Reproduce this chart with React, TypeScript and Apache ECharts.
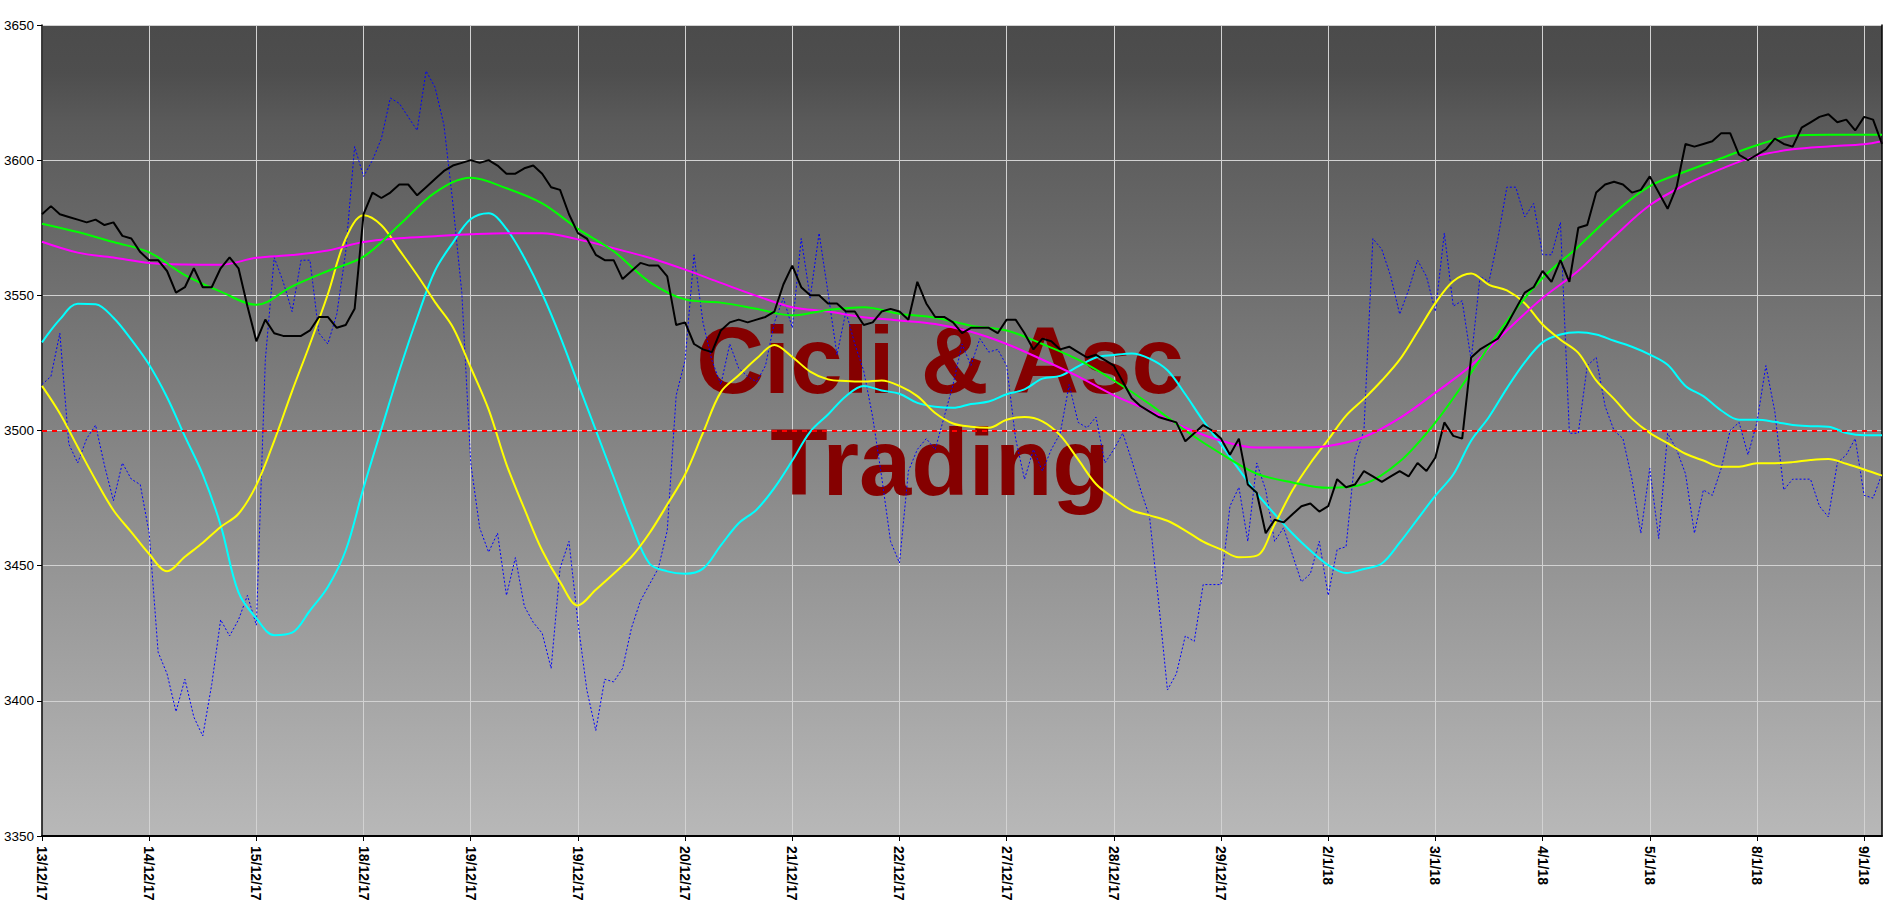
import React, { useEffect, useRef } from "react";
import * as echarts from "echarts";

// ---- tick labels (one every 12 bars) ----
const tickLabels = [
  "13/12/17", "14/12/17", "15/12/17", "18/12/17", "19/12/17", "19/12/17",
  "20/12/17", "21/12/17", "22/12/17", "27/12/17", "28/12/17", "29/12/17",
  "2/1/18", "3/1/18", "4/1/18", "5/1/18", "8/1/18", "9/1/18",
];
const BARS_PER_TICK = 12;
const N = 207;

// ---- price (black) ----
const price = [
  3580, 3583, 3580, 3579, 3578, 3577, 3578, 3576, 3577, 3572, 3571, 3566,
  3563, 3563, 3559, 3551, 3553, 3560, 3553, 3553, 3560, 3564, 3560, 3546,
  3533, 3541, 3536, 3535, 3535, 3535, 3537, 3542, 3542, 3538, 3539, 3545,
  3580, 3588, 3586, 3588, 3591, 3591, 3587, 3590, 3593, 3596, 3598, 3599,
  3600, 3599, 3600, 3598, 3595, 3595, 3597, 3598, 3595, 3590, 3589, 3580,
  3573, 3571, 3565, 3563, 3563, 3556, 3559, 3562, 3561, 3561, 3557, 3539,
  3540, 3532, 3530, 3529, 3537, 3540, 3541, 3540, 3541, 3542, 3544, 3554,
  3561, 3553, 3550, 3550, 3547, 3547, 3544, 3544, 3539, 3540, 3544, 3545,
  3544, 3541, 3555, 3547, 3542, 3542, 3540, 3536, 3538, 3538, 3538, 3536,
  3541, 3541, 3536, 3530, 3534, 3533, 3530, 3531, 3529, 3527, 3528, 3526,
  3524, 3518, 3512, 3509, 3507, 3505, 3504, 3503, 3496, 3499, 3502, 3500,
  3497, 3491, 3497, 3480, 3477, 3462, 3467, 3466, 3469, 3472, 3473, 3470,
  3472, 3482, 3479, 3480, 3485, 3483, 3481, 3483, 3485, 3483, 3488, 3485,
  3490, 3503, 3498, 3497, 3527, 3530, 3532, 3534, 3539, 3545, 3551, 3553,
  3559, 3555, 3563, 3555, 3575, 3576, 3588, 3591, 3592, 3591, 3588, 3589,
  3594, 3588, 3582, 3590, 3606, 3605, 3606, 3607, 3610, 3610, 3602, 3600,
  3602, 3604, 3608, 3606, 3605, 3612, 3614, 3616, 3617, 3614, 3615, 3611,
  3616, 3615, 3606,
];

// ---- fast oscillator (blue dotted) ----
const fastCycle = [
  3517, 3520, 3536, 3495, 3488, 3497, 3502, 3487, 3474, 3488, 3482, 3480,
  3462, 3418, 3410, 3396, 3408, 3394, 3387, 3406, 3430, 3424, 3430, 3439,
  3428, 3526, 3564, 3555, 3544, 3563, 3563, 3536, 3532, 3543, 3566, 3605,
  3594, 3600, 3608, 3623, 3621, 3616, 3611, 3633, 3627, 3613, 3584, 3551,
  3488, 3464, 3455, 3462, 3439, 3453, 3435, 3429, 3425, 3412, 3449, 3459,
  3429, 3404, 3389, 3408, 3407, 3412, 3427, 3437, 3443, 3449, 3463, 3513,
  3526, 3565, 3540, 3526, 3517, 3532, 3523, 3520, 3518, 3524, 3540, 3549,
  3538, 3571, 3549, 3573, 3551, 3528, 3544, 3532, 3522, 3505, 3483, 3459,
  3451, 3485, 3493, 3497, 3493, 3505, 3517, 3532, 3524, 3534, 3529, 3530,
  3524, 3497, 3482, 3493, 3485, 3493, 3499, 3517, 3503, 3501, 3505, 3488,
  3493, 3499, 3489, 3478, 3468, 3437, 3404, 3410, 3424, 3422, 3443, 3443,
  3443, 3472, 3479, 3459, 3488, 3478, 3459, 3464, 3454, 3444, 3447, 3459,
  3439, 3456, 3457, 3490, 3500, 3571, 3567, 3557, 3543, 3552, 3563, 3557,
  3544, 3573, 3546, 3548, 3526, 3557, 3555, 3571, 3590, 3590, 3579, 3584,
  3565, 3565, 3577, 3499, 3499, 3524, 3527, 3509, 3500, 3497, 3482, 3462,
  3486, 3460, 3499, 3493, 3484, 3462, 3478, 3476, 3486, 3500, 3503, 3491,
  3503, 3524, 3507, 3478, 3482, 3482, 3482, 3472, 3468, 3488, 3491, 3497,
  3476, 3475, 3484,
];

// ---- slow averages: one value every 4 bars (and the last bar) ----
const AVG_STEP = 4;
const greenAvg = [
  3576.5, 3573.4, 3569.7, 3565.9, 3557.5, 3551.4, 3546.5, 3553.3, 3559, 3564.3,
  3576, 3588, 3593.5, 3589.6, 3584, 3574.6, 3566.3, 3555, 3548.5, 3547.3,
  3545, 3542.6, 3544.6, 3545.6, 3543.2, 3541.7, 3538.8, 3537, 3532, 3526.2,
  3518.5, 3509.8, 3500, 3491.4, 3484, 3480.8, 3478.8, 3480.2, 3488.5, 3503,
  3521.4, 3540.5, 3556.4, 3568, 3580.4, 3590.4, 3595.8, 3600.7, 3605.5, 3609,
  3609.4, 3609.4, 3609.4,
];
const magentaAvg = [
  3569.8, 3565.8, 3564, 3562, 3561.4, 3561.3, 3563.9, 3564.9, 3566.6, 3569.7,
  3571.1, 3571.9, 3572.6, 3573, 3573, 3570.7, 3567.4, 3563.9, 3559.5, 3554.6,
  3549.8, 3545.6, 3544, 3541.9, 3540.7, 3539.4, 3536.5, 3532, 3526.2, 3520,
  3513, 3507.3, 3501, 3496.2, 3493.7, 3493.7, 3494.3, 3497.6, 3504.6, 3514,
  3524, 3537, 3549, 3559.1, 3571.7, 3583.3, 3591, 3596.8, 3601.6, 3604,
  3605.1, 3605.9, 3607,
];

// ---- cycles: one value every 2 bars (and the last bar) ----
const CYCLE_STEP = 2;
const cyanCycle = [
  3532.6, 3541.1, 3546.9, 3546.7, 3541.7, 3533.6, 3524.3, 3512.3, 3497.8, 3483.7,
  3465, 3440.1, 3430.5, 3424.3, 3425.2, 3433.4, 3442.1, 3455.6, 3478.8, 3500.5,
  3522, 3541.7, 3559.1, 3569.5, 3578.2, 3580.4, 3574.6, 3563.9, 3550.6, 3534.9,
  3517.5, 3500.1, 3482.7, 3465.3, 3450.8, 3447.9, 3447, 3448.9, 3457.5, 3465.7,
  3470.7, 3478.8, 3488.9, 3499.5, 3505.9, 3512.7, 3516.5, 3514.8, 3513.6, 3510.2,
  3508.8, 3508.4, 3509.8, 3510.7, 3513.4, 3515.2, 3519.2, 3520.2, 3523.7, 3527,
  3527.9, 3528.5, 3526.6, 3522.3, 3513.4, 3503.6, 3494.9, 3485.6, 3476.7, 3469.1,
  3461.9, 3455.6, 3450.2, 3447.3, 3448.8, 3450.8, 3458.5, 3467.2, 3475.9, 3483.7,
  3496.2, 3505, 3515.6, 3525.2, 3532.6, 3535.5, 3536.3, 3535.5, 3533.2, 3531,
  3528.1, 3524.3, 3516.5, 3512.7, 3507.4, 3504, 3504, 3503.2, 3502, 3501.6,
  3501.4, 3499.1, 3498.2, 3498.2,
];
const yellowCycle = [
  3516.5, 3506.3, 3493.9, 3481.7, 3470.5, 3462.4, 3454.3, 3447.9, 3453.3, 3458.5,
  3464.3, 3469.2, 3479.8, 3496.2, 3514.6, 3532, 3550.4, 3571, 3579.6, 3575.9,
  3566.8, 3557.5, 3547.5, 3538.2, 3523.3, 3507.8, 3487.5, 3471.1, 3455.6, 3444,
  3435.3, 3441.1, 3447, 3453.3, 3462, 3472.6, 3483.7, 3499.1, 3514.2, 3520.4,
  3526.6, 3531.6, 3527.2, 3521.8, 3518.9, 3518.3, 3518.1, 3518.5, 3516.5, 3512.7,
  3506.5, 3502.6, 3501.4, 3501, 3504, 3505, 3503.4, 3498.2, 3489.3, 3480.2,
  3475, 3470.5, 3468.6, 3466.6, 3463, 3458.9, 3456, 3453.1, 3453.7, 3465.3,
  3477.9, 3487.9, 3496.6, 3505.5, 3511.7, 3518.5, 3526.2, 3536.5, 3547.1, 3555.2,
  3558.1, 3553.9, 3551.8, 3547.1, 3539.2, 3533.6, 3528.7, 3518.5, 3511.7, 3504.4,
  3499.1, 3495.3, 3491.4, 3488.9, 3486.6, 3486.6, 3487.9, 3487.9, 3488.3, 3489.1,
  3489.5, 3487.7, 3485.6, 3483.3,
];
const zeroLine = 3500;

// pairs [bar index, value] for the sparse smooth lines
function knotPairs(vals: number[], step: number): [number, number][] {
  return vals.map((v, k) => [Math.min(k * step, N - 1), v]);
}

const FONT = '"Liberation Sans", Arial, sans-serif';

export default function App() {
  const ref = useRef<HTMLDivElement>(null);
  useEffect(() => {
    if (!ref.current) return;
    const chart = echarts.init(ref.current, undefined, { renderer: "svg" });
    const cats = Array.from({ length: N }, (_, i) => String(i));
    const smooth = (name: string, vals: number[], step: number, color: string) => ({
      name,
      type: "line",
      data: knotPairs(vals, step),
      smooth: 0.35,
      showSymbol: false,
      symbol: "none",
      lineStyle: { color, width: 2 },
      z: 3,
    });
    chart.setOption({
      animation: false,
      backgroundColor: "#ffffff",
      grid: {
        left: 42,
        right: 3,
        top: 25,
        bottom: 70,
        show: true,
        borderWidth: 0,
        backgroundColor: new echarts.graphic.LinearGradient(0, 0, 0, 1, [
          { offset: 0, color: "#4b4b4b" },
          { offset: 0.06, color: "#4e4e4e" },
          { offset: 0.12, color: "#5a5a5a" },
          { offset: 1, color: "#b8b8b8" },
        ]),
      },
      xAxis: {
        type: "category",
        data: cats,
        boundaryGap: false,
        axisLine: { lineStyle: { color: "#000", width: 2 } },
        axisTick: { interval: BARS_PER_TICK - 1, length: 5, lineStyle: { color: "#000" } },
        axisLabel: {
          interval: BARS_PER_TICK - 1,
          rotate: -90,
          margin: 10,
          fontSize: 14,
          fontWeight: "bold",
          color: "#000",
          fontFamily: FONT,
          formatter: (_v: string, i: number) =>
            i % BARS_PER_TICK === 0 ? tickLabels[i / BARS_PER_TICK] ?? "" : "",
        },
        splitLine: {
          show: true,
          interval: BARS_PER_TICK - 1,
          lineStyle: { color: "#d2d2d2", width: 1 },
        },
      },
      yAxis: [
        {
          type: "value",
          min: 3350,
          max: 3650,
          interval: 50,
          axisLine: { show: true, lineStyle: { color: "#000", width: 1.5 } },
          axisTick: { show: true, length: 5, lineStyle: { color: "#000" } },
          axisLabel: {
            fontSize: 13.5,
            color: "#000",
            margin: 8,
            fontFamily: FONT,
            formatter: (v: number) => String(v),
          },
          splitLine: { show: true, lineStyle: { color: "#d2d2d2", width: 1 } },
        },
        {
          type: "value",
          position: "right",
          min: 3350,
          max: 3650,
          interval: 50,
          axisLine: { show: true, lineStyle: { color: "#000", width: 1.5 } },
          axisTick: { show: false },
          axisLabel: { show: false },
          splitLine: { show: false },
        },
      ],
      graphic: [
        {
          type: "text",
          z: 1,
          silent: true,
          style: {
            text: "Cicli & Asc",
            x: 940,
            y: 360,
            align: "center",
            verticalAlign: "middle",
            font: `bold 94px ${FONT}`,
            fill: "#850000",
          },
        },
        {
          type: "text",
          z: 1,
          silent: true,
          style: {
            text: "Trading",
            x: 940,
            y: 462,
            align: "center",
            verticalAlign: "middle",
            font: `bold 94px ${FONT}`,
            fill: "#850000",
          },
        },
      ],
      series: [
        {
          name: "fast",
          type: "line",
          data: fastCycle,
          showSymbol: false,
          symbol: "none",
          lineStyle: { color: "#0000ff", width: 1, type: [2, 2] },
          z: 3,
          markLine: {
            silent: true,
            symbol: "none",
            label: { show: false },
            lineStyle: { color: "#ff0000", width: 2, type: [5, 5] },
            data: [{ yAxis: zeroLine }],
          },
        },
        smooth("cyan", cyanCycle, CYCLE_STEP, "#00ffff"),
        smooth("yellow", yellowCycle, CYCLE_STEP, "#ffff00"),
        smooth("magenta", magentaAvg, AVG_STEP, "#ff00ff"),
        smooth("green", greenAvg, AVG_STEP, "#00ff00"),
        {
          name: "price",
          type: "line",
          data: price,
          showSymbol: false,
          symbol: "none",
          lineStyle: { color: "#000000", width: 2 },
          z: 4,
        },
      ],
    });
    return () => chart.dispose();
  }, []);
  return (
    <div
      ref={ref}
      style={{ position: "fixed", left: 0, top: 0, width: "1885px", height: "906px", background: "#fff" }}
    />
  );
}
